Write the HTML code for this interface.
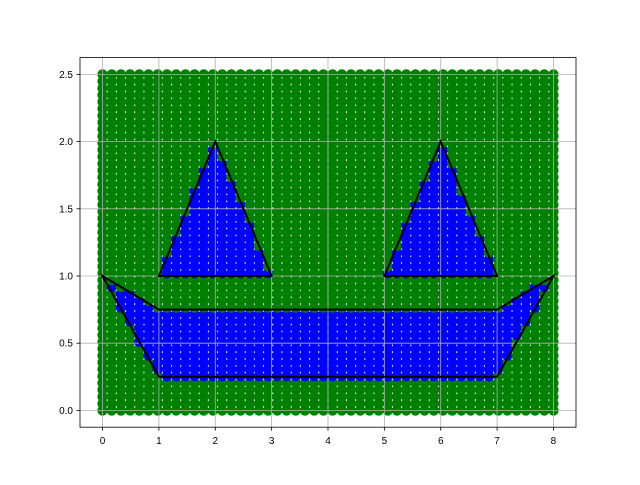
<!DOCTYPE html>
<html><head><meta charset="utf-8"><style>
body{margin:0;background:#fff}
svg text{font-family:"Liberation Sans","DejaVu Sans",sans-serif;font-size:10px;fill:#000}
</style></head><body>
<svg id="chart" width="640" height="480" xmlns="http://www.w3.org/2000/svg">
<rect width="640" height="480" fill="#fff"/>
<g id="pts"></g>
<g id="grid"></g>
<g id="polys"></g>
<rect x="80" y="57.6" width="496" height="369.6" fill="none" stroke="#000" stroke-width="0.8"/>
<g id="ticks"></g>
</svg>
<script>
const xTicks=[0,1,2,3,4,5,6,7,8];
const yTicks=[0,0.5,1,1.5,2,2.5];
const yTickLabels=["0.0","0.5","1.0","1.5","2.0","2.5"];
const triangleLeft=[[1,1],[2,2],[3,1]];
const triangleRight=[[5,1],[6,2],[7,1]];
const mouth=[[0,1],[1,0.75],[7,0.75],[8,1],[7,0.25],[1,0.25]];
const gridNx=50, gridNy=50, xMax=8, yMax=2.5;
const X=v=>80+(v+0.4)/8.8*496;
const Y=v=>427.2-(v+0.125)/2.75*369.6;
const NS="http://www.w3.org/2000/svg";
function mk(t,a,p){const e=document.createElementNS(NS,t);for(const k in a)e.setAttribute(k,a[k]);p.appendChild(e);return e;}
const polys=[triangleLeft,triangleRight,mouth];
function inside(px,py,poly){let c=false;for(let i=0,j=poly.length-1;i<poly.length;j=i++){const [xi,yi]=poly[i],[xj,yj]=poly[j];if(((yi>py)!=(yj>py))&&(px<(xj-xi)*(py-yi)/(yj-yi)+xi))c=!c;}return c;}
const pg=document.getElementById('pts');
for(let i=0;i<gridNx;i++)for(let j=0;j<gridNy;j++){const x=i*xMax/(gridNx-1),y=j*yMax/(gridNy-1);
const inn=polys.some(p=>inside(x,y,p));
const c=mk('circle',{cx:X(x),cy:Y(y),r:5.2,fill:inn?'#0000ff':'#008000'},pg);

}
const g=document.getElementById('grid');
xTicks.forEach(t=>{const l=mk('line',{x1:X(t),x2:X(t),y1:57.6,y2:427.2,stroke:'#b0b0b0','stroke-width':0.8},g);

});
yTicks.forEach(t=>{const l=mk('line',{x1:80,x2:576,y1:Y(t),y2:Y(t),stroke:'#b0b0b0','stroke-width':0.8},g);

});
const pl=document.getElementById('polys');
[['triangle-left',triangleLeft],['triangle-right',triangleRight],['mouth-polygon',mouth]].forEach(([n,p])=>{
const e=mk('polygon',{points:p.map(q=>X(q[0])+','+Y(q[1])).join(' '),fill:'none',stroke:'#000','stroke-width':2,'stroke-linejoin':'miter'},pl);

});
const tk=document.getElementById('ticks');
xTicks.forEach(t=>{mk('line',{x1:X(t),x2:X(t),y1:427.2,y2:430.7,stroke:'#000','stroke-width':0.8},tk);
const s=mk('text',{x:X(t),y:444,'text-anchor':'middle'},tk);s.textContent=t;

});
yTicks.forEach((t,i)=>{mk('line',{x1:76.5,x2:80,y1:Y(t),y2:Y(t),stroke:'#000','stroke-width':0.8},tk);
const s=mk('text',{x:73,y:Y(t)+3.5,'text-anchor':'end'},tk);s.textContent=yTickLabels[i];

});
</script>
</body></html>
